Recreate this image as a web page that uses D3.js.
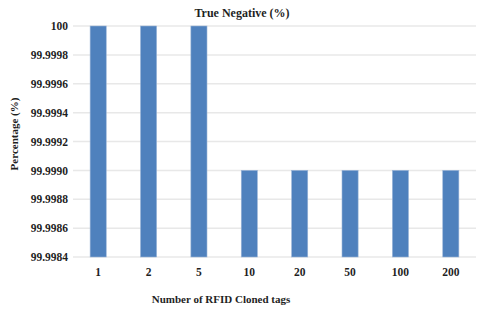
<!DOCTYPE html>
<html>
<head>
<meta charset="utf-8">
<script src="https://cdn.jsdelivr.net/npm/d3@7"></script>
<style>
  body { margin: 0; background: #fff; }
  svg text { font-family: "Liberation Serif", "Times New Roman", serif !important; font-weight: bold; fill: #1f1f1f; }
</style>
</head>
<body>
<div id="vis"></div>
<script>
// data
let tags = ['1', '2', '5', '10', '20', '50', '100', '200'];
let trueNegative = [100, 100, 100, 99.999, 99.999, 99.999, 99.999, 99.999];
let yTicks = [99.9984, 99.9986, 99.9988, 99.9990, 99.9992, 99.9994, 99.9996, 99.9998, 100];
let yTickLabels = ['99.9984', '99.9986', '99.9988', '99.9990', '99.9992', '99.9994', '99.9996', '99.9998', '100'];

let margin = { top: 26, left: 73, right: 4, bottom: 58 },
    width = 480 - margin.left - margin.right,
    height = 315 - margin.top - margin.bottom;

let svg = d3.select('#vis')
    .append('svg')
    .attr('width', 480)
    .attr('height', 315);

let chartGroup = svg.append('g')
    .attr('transform', 'translate(' + margin.left + ',' + margin.top + ')');

let x = d3.scaleBand()
    .domain(tags)
    .range([0, width])
    .paddingInner(0.68)
    .paddingOuter(0.34);

let y = d3.scaleLinear()
    .domain([99.9984, 100])
    .range([height, 0]);

// gridlines
chartGroup.append('g')
    .selectAll('line')
    .data(yTicks)
    .enter().append('line')
    .attr('x1', 0)
    .attr('x2', width)
    .attr('y1', d => y(d))
    .attr('y2', d => y(d))
    .attr('stroke', '#e8e8e8')
    .attr('stroke-width', 1.5);

// bars
chartGroup.append('g')
    .selectAll('rect')
    .data(trueNegative)
    .enter().append('rect')
    .attr('x', (d, i) => x(tags[i]))
    .attr('y', d => y(d))
    .attr('width', x.bandwidth())
    .attr('height', d => height - y(d))
    .attr('fill', '#4f81bd')
    .attr('stroke', '#9bb5d8')
    .attr('stroke-width', 0.6);

// y axis labels
let yAxis = d3.axisLeft(y)
    .tickValues(yTicks)
    .tickFormat((d, i) => yTickLabels[i])
    .tickSize(0)
    .tickPadding(5);
chartGroup.append('g')
    .call(yAxis)
    .call(g => g.select('.domain').remove())
    .selectAll('text')
    .attr('font-size', 11.5);

// x axis labels
let xAxis = d3.axisBottom(x).tickSize(0).tickPadding(11);
chartGroup.append('g')
    .attr('transform', 'translate(0,' + height + ')')
    .call(xAxis)
    .call(g => g.select('.domain').remove())
    .selectAll('text')
    .attr('font-size', 11.5);

// titles
svg.append('text')
    .attr('x', 242)
    .attr('y', 17)
    .attr('text-anchor', 'middle')
    .attr('font-size', 12)
    .text('True Negative (%)');

svg.append('text')
    .attr('x', 221)
    .attr('y', 303)
    .attr('text-anchor', 'middle')
    .attr('font-size', 11)
    .text('Number of RFID Cloned tags');

svg.append('text')
    .attr('transform', 'translate(18,134) rotate(-90)')
    .attr('text-anchor', 'middle')
    .attr('font-size', 11)
    .text('Percentage (%)');
</script>
</body>
</html>
